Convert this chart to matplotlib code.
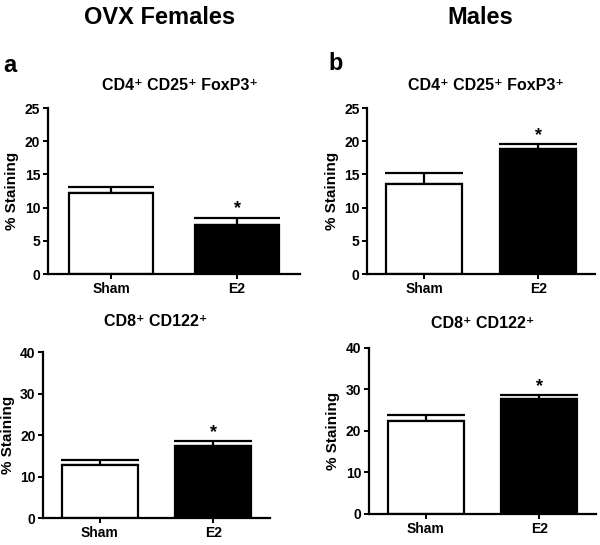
#!/usr/bin/env python3

"""
Two-by-two bar panels: % staining for Sham vs E2 in OVX females and males
"""

import matplotlib
matplotlib.use("Agg")
import matplotlib.pyplot as plt

plt.rcParams["font.family"] = ["Liberation Sans", "DejaVu Sans"]
plt.rcParams["font.weight"] = "bold"

groups = ["Sham", "E2"]
bar_colors = ["white", "black"]

# CD4+ CD25+ FoxP3+
treg_females = [12.2, 7.4]
treg_females_sem = [0.95, 1.1]
treg_males = [13.55, 18.8]
treg_males_sem = [1.7, 0.8]

# CD8+ CD122+
cd8_females = [12.7, 17.4]
cd8_females_sem = [1.3, 1.2]
cd8_males = [22.4, 27.7]
cd8_males_sem = [1.35, 0.9]

signif = [False, True]

treg_title = "CD4\u207a CD25\u207a FoxP3\u207a"
cd8_title = "CD8\u207a CD122\u207a"


def draw_panel(ax, values, errors, ymax, ystep, capsize):
    """ Draw one Sham / E2 bar panel in the GraphPad style """
    xpos = range(len(values))
    ax.bar(xpos, values, width=0.67, color=bar_colors, edgecolor="black",
           linewidth=1.6, zorder=2)
    ax.errorbar(xpos, values, yerr=[[0] * len(errors), errors], fmt="none",
                ecolor="black", elinewidth=1.6, capsize=capsize,
                capthick=1.6, zorder=1)
    for x, v, e, s in zip(xpos, values, errors, signif):
        if s:
            ax.annotate("*", (x, v + e), xytext=(0, 0),
                        textcoords="offset points", ha="center",
                        va="bottom", fontsize=13, fontweight="bold")
    ax.set_xlim(-0.5, 1.5)
    ax.set_ylim(0, ymax)
    ax.set_yticks(range(0, ymax + 1, ystep))
    ax.set_xticks(list(xpos))
    ax.set_xticklabels(groups)
    for side in ("top", "right"):
        ax.spines[side].set_visible(False)
    for side in ("left", "bottom"):
        ax.spines[side].set_linewidth(1.6)
    ax.tick_params(width=1.4, length=3.5, labelsize=10, pad=2)
    ax.set_ylabel("% Staining", fontsize=11, fontweight="bold", labelpad=4)


fig = plt.figure(figsize=(6.0, 5.45), dpi=100)

ax_a1 = fig.add_axes([0.080, 0.4972, 0.420, 0.3046])
ax_b1 = fig.add_axes([0.612, 0.4972, 0.380, 0.3046])
ax_a2 = fig.add_axes([0.072, 0.0495, 0.378, 0.3046])
ax_b2 = fig.add_axes([0.615, 0.0569, 0.378, 0.3046])

draw_panel(ax_a1, treg_females, treg_females_sem, 25, 5, 31)
draw_panel(ax_b1, treg_males, treg_males_sem, 25, 5, 28)
draw_panel(ax_a2, cd8_females, cd8_females_sem, 40, 10, 28)
draw_panel(ax_b2, cd8_males, cd8_males_sem, 40, 10, 28)

fig.text(160 / 600, 1 - 17 / 545, "OVX Females", ha="center", va="center",
         fontsize=17, fontweight="bold")
fig.text(480 / 600, 1 - 17 / 545, "Males", ha="center", va="center",
         fontsize=17, fontweight="bold")
fig.text(10 / 600, 1 - 65 / 545, "a", ha="center", va="center",
         fontsize=17, fontweight="bold")
fig.text(336 / 600, 1 - 64 / 545, "b", ha="center", va="center",
         fontsize=17, fontweight="bold")

fig.text(180 / 600, 1 - 85 / 545, treg_title, ha="center", va="center",
         fontsize=11.5, fontweight="bold")
fig.text(486 / 600, 1 - 85 / 545, treg_title, ha="center", va="center",
         fontsize=11.5, fontweight="bold")
fig.text(156 / 600, 1 - 321 / 545, cd8_title, ha="center", va="center",
         fontsize=11.5, fontweight="bold")
fig.text(483 / 600, 1 - 324 / 545, cd8_title, ha="center", va="center",
         fontsize=11.5, fontweight="bold")

fig.savefig("out.png", dpi=100)
